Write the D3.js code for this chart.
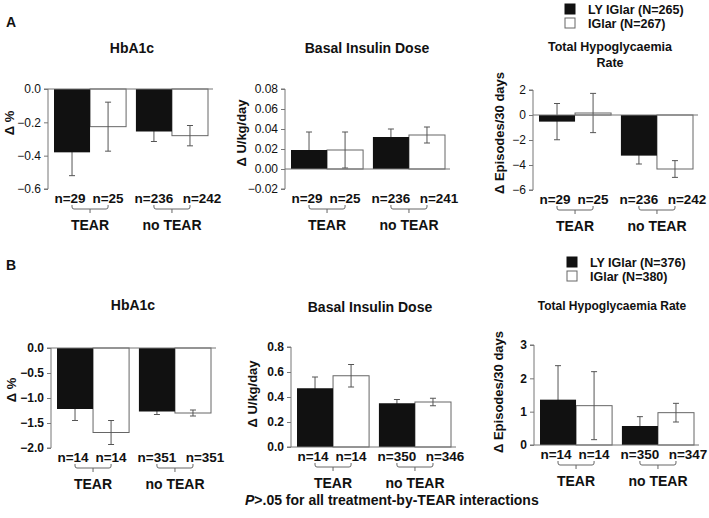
<!DOCTYPE html>
<html>
<head>
<meta charset="utf-8">
<script src="https://cdn.jsdelivr.net/npm/d3@7"></script>
<style>
  body { margin: 0; background: #fff; }
  svg { font-family: "Liberation Sans", Arial, Helvetica, sans-serif; }
</style>
</head>
<body>
<div id="chart"></div>
<script>
// Catégories et séries
const groups = ["TEAR", "no TEAR"];
const series = ["LY IGlar", "IGlar"];
const legendA = ["LY IGlar (N=265)", "IGlar (N=267)"];
const legendB = ["LY IGlar (N=376)", "IGlar (N=380)"];

// Panel A
const hbA_ly = [-0.38, -0.255], hbA_lyErr = [0.14, 0.06];
const hbA_ig = [-0.226, -0.28], hbA_igErr = [0.147, 0.061];
const hbA_n = ["n=29", "n=25", "n=236", "n=242"];
const hbA_ticks = [0, -0.2, -0.4, -0.6];

const biA_ly = [0.019, 0.032], biA_lyErr = [0.018, 0.008];
const biA_ig = [0.019, 0.034], biA_igErr = [0.018, 0.008];
const biA_n = ["n=29", "n=25", "n=236", "n=241"];
const biA_ticks = [0.08, 0.06, 0.04, 0.02, 0, -0.02];

const hyA_ly = [-0.53, -3.25], hyA_lyErr = [1.45, 0.67];
const hyA_ig = [0.16, -4.32], hyA_igErr = [1.57, 0.67];
const hyA_n = ["n=29", "n=25", "n=236", "n=242"];
const hyA_ticks = [2, 0, -2, -4, -6];

// Panel B
const hbB_ly = [-1.22, -1.27], hbB_lyErr = [0.23, 0.06];
const hbB_ig = [-1.69, -1.30], hbB_igErr = [0.24, 0.06];
const hbB_n = ["n=14", "n=14", "n=351", "n=351"];
const hbB_ticks = [0, -0.5, -1.0, -1.5, -2.0];

const biB_ly = [0.47, 0.35], biB_lyErr = [0.09, 0.03];
const biB_ig = [0.57, 0.36], biB_igErr = [0.09, 0.03];
const biB_n = ["n=14", "n=14", "n=350", "n=346"];
const biB_ticks = [0.8, 0.6, 0.4, 0.2, 0];

const hyB_ly = [1.36, 0.57], hyB_lyErr = [1.02, 0.28];
const hyB_ig = [1.18, 0.97], hyB_igErr = [1.02, 0.28];
const hyB_n = ["n=14", "n=14", "n=350", "n=347"];
const hyB_ticks = [3, 2, 1, 0];

const W = 709, H = 518;
const AXIS = "#777", ERR = "#555", INK = "#111";

const svg = d3.select("#chart").append("svg")
    .attr("width", W).attr("height", H);

function drawPanel(p) {
    const g = svg.append("g");
    const [lo, hi] = d3.extent(p.ticks);
    const y = d3.scaleLinear().domain([lo, hi]).range([p.yBottom, p.yTop]);

    // groupes puis barres
    const start = p.axisX + p.gap;
    const x0 = d3.scaleBand().domain(groups)
        .range([start, start + 154]).paddingInner(0.12);
    const x1 = d3.scaleBand().domain(series).range([0, x0.bandwidth()]);

    const rows = [];
    groups.forEach((grp, i) => {
        rows.push({grp, s: series[0], v: p.ly[i], e: p.lyErr[i]});
        rows.push({grp, s: series[1], v: p.ig[i], e: p.igErr[i]});
    });
    const bx = d => x0(d.grp) + x1(d.s);
    const bw = x1.bandwidth();

    // libellé Y
    g.append("text")
        .attr("transform", `translate(${p.labX},${p.labY}) rotate(-90)`)
        .attr("text-anchor", "middle")
        .style("font-size", "13px").style("font-weight", "bold")
        .attr("fill", INK).text(p.ylabel);

    // barres blanches
    g.selectAll(".wbar").data(rows.filter(d => d.s === series[1])).enter()
        .append("rect")
        .attr("x", bx).attr("width", bw)
        .attr("y", d => Math.min(y(d.v), y(0)))
        .attr("height", d => Math.abs(y(d.v) - y(0)))
        .attr("fill", "#fff").attr("stroke", "#666").attr("stroke-width", 1);

    // barres d'erreur
    const eb = g.selectAll(".err").data(rows).enter().append("g")
        .attr("stroke", ERR).attr("stroke-width", 1);
    eb.append("line")
        .attr("x1", d => bx(d) + bw / 2).attr("x2", d => bx(d) + bw / 2)
        .attr("y1", d => y(d.v - d.e)).attr("y2", d => y(d.v + d.e));
    [-1, 1].forEach(k => {
        eb.append("line")
            .attr("x1", d => bx(d) + bw / 2 - 3).attr("x2", d => bx(d) + bw / 2 + 3)
            .attr("y1", d => y(d.v + k * d.e)).attr("y2", d => y(d.v + k * d.e));
    });

    // barres noires (cachent la partie interne de l'erreur)
    g.selectAll(".bbar").data(rows.filter(d => d.s === series[0])).enter()
        .append("rect")
        .attr("x", bx).attr("width", bw)
        .attr("y", d => Math.min(y(d.v), y(0)))
        .attr("height", d => Math.abs(y(d.v) - y(0)))
        .attr("fill", INK);

    // ligne zéro
    g.append("line")
        .attr("x1", p.axisX).attr("x2", start + 159)
        .attr("y1", y(0)).attr("y2", y(0))
        .attr("stroke", AXIS);

    // axe Y : traits par d3.axisLeft, étiquettes en texte simple
    const fmt = d3.format(p.fmt);
    const axis = d3.axisLeft(y).tickValues(p.ticks).tickSize(4).tickFormat("");
    const ay = svg.append("g").attr("class", "yaxis")
        .attr("transform", `translate(${p.axisX},0)`).call(axis);
    ay.select(".domain").attr("stroke", AXIS).attr("d", `M-4,${p.yTop}H0V${p.yBottom}H-4`);
    ay.selectAll(".tick line").attr("stroke", AXIS);

    const tl = svg.append("g").attr("class", "ylabels");
    p.ticks.forEach(t => {
        tl.append("text")
            .attr("x", p.axisX - 7)
            .attr("y", y(t))
            .attr("dy", "0.35em")
            .attr("text-anchor", "end")
            .attr("fill", INK)
            .attr("font-family", "Liberation Sans, Arial, sans-serif")
            .attr("font-size", 12)
            .attr("font-weight", p.boldTicks ? "bold" : "normal")
            .text(fmt(t));
    });

    // étiquettes n=
    const base = p.yBottom;
    g.selectAll(".nlab").data(rows).enter().append("text")
        .attr("x", (d, i) => bx(d) + bw / 2 + (i === 3 ? 12 : i === 0 ? -2 : 0))
        .attr("y", base + 14)
        .attr("text-anchor", "middle")
        .style("font-size", "13.5px").style("font-weight", "bold")
        .attr("fill", INK)
        .text((d, i) => p.n[i]);

    // accolades
    groups.forEach(grp => {
        const l = x0(grp) + bw / 2, r = x0(grp) + bw * 1.5, m = (l + r) / 2;
        const t = base + 16, h = base + 20;
        g.append("path")
            .attr("d", `M${l},${t}V${h - 2}Q${l},${h} ${l + 2},${h}H${r - 2}Q${r},${h} ${r},${h - 2}V${t}M${m},${h}V${h + 4}`)
            .attr("fill", "none").attr("stroke", "#666");
        g.append("text")
            .attr("x", m).attr("y", base + 41)
            .attr("text-anchor", "middle")
            .style("font-size", "14px").style("font-weight", "bold")
            .attr("fill", INK)
            .text(grp);
    });

    // titre
    p.title.forEach((t, i) => {
        g.append("text")
            .attr("x", p.titleX).attr("y", p.titleY + i * 16)
            .attr("text-anchor", "middle")
            .style("font-size", p.titleSize + "px").style("font-weight", "bold")
            .attr("fill", INK).text(t);
    });
}

function drawLegend(labels, x, y) {
    labels.forEach((lab, i) => {
        svg.append("rect")
            .attr("x", x).attr("y", y + i * 14 - 5)
            .attr("width", 10).attr("height", 10)
            .attr("fill", i === 0 ? INK : "#fff")
            .attr("stroke", i === 0 ? INK : "#666");
        svg.append("text")
            .attr("x", x + 23).attr("y", y + i * 14 + 4.5)
            .style("font-size", "12.5px").style("font-weight", "bold")
            .attr("fill", INK).text(lab);
    });
}

// Panel A
drawPanel({title: ["HbA1c"], titleX: 132, titleY: 53, titleSize: 14, ly: hbA_ly, lyErr: hbA_lyErr, ig: hbA_ig, igErr: hbA_igErr,
    n: hbA_n, ticks: hbA_ticks, fmt: ".1f", axisX: 48, gap: 6, yTop: 89, yBottom: 189,
    ylabel: "Δ %", labX: 14, labY: 123, boldTicks: false});
drawPanel({title: ["Basal Insulin Dose"], titleX: 367, titleY: 53, titleSize: 14, ly: biA_ly, lyErr: biA_lyErr, ig: biA_ig, igErr: biA_igErr,
    n: biA_n, ticks: biA_ticks, fmt: ".2f", axisX: 285, gap: 6, yTop: 89, yBottom: 189,
    ylabel: "Δ U/kg/day", labX: 246, labY: 133, boldTicks: false});
drawPanel({title: ["Total Hypoglycaemia", "Rate"], titleX: 610, titleY: 51, titleSize: 12.5, ly: hyA_ly, lyErr: hyA_lyErr, ig: hyA_ig, igErr: hyA_igErr,
    n: hyA_n, ticks: hyA_ticks, fmt: ".0f", axisX: 533, gap: 6, yTop: 90, yBottom: 190,
    ylabel: "Δ Episodes/30 days", labX: 504, labY: 133, boldTicks: false});

// Panel B
drawPanel({title: ["HbA1c"], titleX: 133, titleY: 310, titleSize: 14, ly: hbB_ly, lyErr: hbB_lyErr, ig: hbB_ig, igErr: hbB_igErr,
    n: hbB_n, ticks: hbB_ticks, fmt: ".1f", axisX: 51, gap: 6, yTop: 348, yBottom: 448,
    ylabel: "Δ %", labX: 16, labY: 390, boldTicks: true});
drawPanel({title: ["Basal Insulin Dose"], titleX: 370, titleY: 312, titleSize: 14, ly: biB_ly, lyErr: biB_lyErr, ig: biB_ig, igErr: biB_igErr,
    n: biB_n, ticks: biB_ticks, fmt: ".1f", axisX: 291, gap: 6, yTop: 347, yBottom: 447,
    ylabel: "Δ U/kg/day", labX: 257, labY: 394, boldTicks: true});
drawPanel({title: ["Total Hypoglycaemia Rate"], titleX: 612, titleY: 310, titleSize: 12, ly: hyB_ly, lyErr: hyB_lyErr, ig: hyB_ig, igErr: hyB_igErr,
    n: hyB_n, ticks: hyB_ticks, fmt: ".0f", axisX: 534, gap: 6, yTop: 345, yBottom: 445,
    ylabel: "Δ Episodes/30 days", labX: 503, labY: 392, boldTicks: true});

// lettres des panneaux
[["A", 27], ["B", 270]].forEach(([t, yy]) => {
    svg.append("text").attr("x", 6).attr("y", yy)
        .style("font-size", "14px").style("font-weight", "bold")
        .attr("fill", INK).text(t);
});

drawLegend(legendA, 565, 9);
drawLegend(legendB, 567, 262);

// note de bas
const foot = svg.append("text").attr("x", 245).attr("y", 505)
    .style("font-size", "14px").style("font-weight", "bold").attr("fill", INK);
foot.append("tspan").style("font-style", "italic").text("P");
foot.append("tspan").text(">.05 for all treatment-by-TEAR interactions");

// graduations au premier plan
svg.selectAll(".yaxis, .ylabels").raise();
</script>
</body>
</html>
